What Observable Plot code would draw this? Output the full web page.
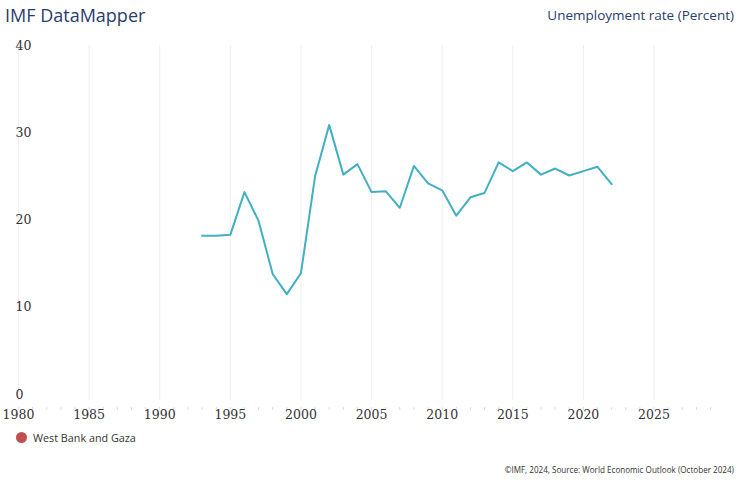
<!DOCTYPE html>
<html>
<head>
<meta charset="utf-8">
<script src="https://cdn.jsdelivr.net/npm/d3@7"></script>
<script src="https://cdn.jsdelivr.net/npm/@observablehq/plot@0.6"></script>
<style>
  html, body { margin: 0; padding: 0; background: #fff; }
  body { width: 739px; height: 482px; position: relative; overflow: hidden; font-family: "Open Sans", sans-serif; }
  #title { position: absolute; left: 5px; top: 3px; font-size: 18px; color: #2b3d6b; white-space: nowrap; }
  #subtitle { position: absolute; right: 5px; top: 6px; font-size: 13.5px; color: #2b3d6b; white-space: nowrap; }
  #chart { position: absolute; left: 0; top: 0; }
  #legend { position: absolute; left: 16px; top: 430px; font-size: 10.8px; color: #333; display: flex; align-items: center; white-space: nowrap; }
  #legend .dot { width: 11px; height: 11px; border-radius: 50%; background: #c0504f; margin-right: 6px; }
  #footer { position: absolute; right: 5px; top: 464px; font-size: 8.1px; color: #333; white-space: nowrap; }
</style>
</head>
<body>
<div id="chart"></div>
<div id="title">IMF DataMapper</div>
<div id="subtitle">Unemployment rate (Percent)</div>
<div id="legend"><span class="dot"></span><span id="legendName"></span></div>
<div id="footer">©IMF, 2024, Source: World Economic Outlook (October 2024)</div>
<script>
const seriesName = "West Bank and Gaza";
const years = [1993,1994,1995,1996,1997,1998,1999,2000,2001,2002,2003,2004,2005,2006,2007,2008,2009,2010,2011,2012,2013,2014,2015,2016,2017,2018,2019,2020,2021,2022];
const values = [18.2,18.2,18.3,23.2,19.9,13.8,11.5,13.9,25.0,30.9,25.2,26.4,23.2,23.3,21.4,26.2,24.2,23.4,20.5,22.6,23.1,26.6,25.6,26.6,25.2,25.9,25.1,25.6,26.1,24.1];
const xLabelTicks = [1980,1985,1990,1995,2000,2005,2010,2015,2020,2025];
const xMinorTicks = d3.range(1980, 2030);
const yTicks = [0,10,20,30,40];

document.getElementById("legendName").textContent = seriesName;

const data = years.map((year, i) => ({year, value: values[i]}));
const serif = "DejaVu Serif, serif";

const chart = Plot.plot({
  width: 739,
  height: 482,
  marginTop: 45,
  marginBottom: 82,
  marginLeft: 18,
  marginRight: 29,
  style: {background: "transparent", overflow: "visible"},
  x: {domain: [1980, 2029]},
  y: {domain: [0, 40], range: [394, 45]},
  marks: [
    Plot.ruleX(xLabelTicks, {stroke: "#efefef", strokeWidth: 1}),
    Plot.axisX(xMinorTicks, {tickSize: 3, dy: 7, stroke: "#dcdcdc", tickFormat: () => "", label: null}),
    Plot.axisX(xLabelTicks, {tickSize: 0, tickPadding: 10, tickFormat: d3.format("d"), fontSize: 12.5, fontFamily: serif, fill: "#333", label: null}),
    Plot.axisY(yTicks, {anchor: "left", tickSize: 0, tickPadding: 3, textAnchor: "start", fontSize: 12.5, fontFamily: serif, fill: "#333", label: null}),
    Plot.line(data, {x: "year", y: "value", stroke: "#41b0c1", strokeWidth: 2})
  ]
});
document.getElementById("chart").appendChild(chart);
</script>
</body>
</html>
